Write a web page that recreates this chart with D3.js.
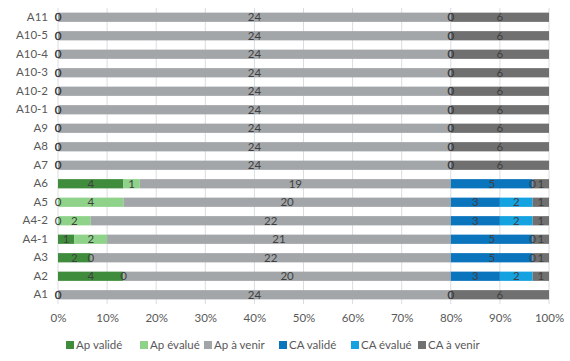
<!DOCTYPE html>
<html>
<head>
<meta charset="utf-8">
<script src="https://cdn.jsdelivr.net/npm/d3@7"></script>
<style>
  body { margin: 0; background: #fff; }
  text { font-family: Lato, "Open Sans", sans-serif; }
</style>
</head>
<body>
<div class="chart"></div>
<script>
// categories, top to bottom
var categories = ["A11", "A10-5", "A10-4", "A10-3", "A10-2", "A10-1", "A9", "A8", "A7",
                  "A6", "A5", "A4-2", "A4-1", "A3", "A2", "A1"];
var seriesNames = ["Ap validé", "Ap évalué", "Ap à venir", "CA validé", "CA évalué", "CA à venir"];
var seriesColors = ["#3f8d3c", "#8fd38a", "#a3a6a9", "#0a74bd", "#15a2e0", "#707070"];

var apValide  = [0, 0, 0, 0, 0, 0, 0, 0, 0, 4, 0, 0, 1, 2, 4, 0];
var apEvalue  = [0, 0, 0, 0, 0, 0, 0, 0, 0, 1, 4, 2, 2, 0, 0, 0];
var apAVenir  = [24, 24, 24, 24, 24, 24, 24, 24, 24, 19, 20, 22, 21, 22, 20, 24];
var caValide  = [0, 0, 0, 0, 0, 0, 0, 0, 0, 5, 3, 3, 5, 5, 3, 0];
var caEvalue  = [0, 0, 0, 0, 0, 0, 0, 0, 0, 0, 2, 2, 0, 0, 2, 0];
var caAVenir  = [6, 6, 6, 6, 6, 6, 6, 6, 6, 1, 1, 1, 1, 1, 1, 6];

var tickValues = [0, 0.1, 0.2, 0.3, 0.4, 0.5, 0.6, 0.7, 0.8, 0.9, 1];

var width = 570, height = 361;
var svg = d3.select(".chart").append("svg")
    .attr("width", width)
    .attr("height", height);

// build rows for the stack
var series = [apValide, apEvalue, apAVenir, caValide, caEvalue, caAVenir];
var rows = categories.map(function(c, i) {
  var r = { cat: c };
  seriesNames.forEach(function(s, k) { r[s] = series[k][i]; });
  return r;
});

var stacked = d3.stack().keys(seriesNames).offset(d3.stackOffsetExpand)(rows);

var x = d3.scaleLinear().domain([0, 1]).range([58, 549]);
var y = d3.scaleBand().domain(categories).range([8, 304]).paddingInner(0.5).paddingOuter(0.25);

// gridlines
svg.append("g").selectAll("line")
  .data(tickValues)
  .enter().append("line")
  .attr("x1", function(d) { return x(d); })
  .attr("x2", function(d) { return x(d); })
  .attr("y1", 8)
  .attr("y2", 304)
  .attr("stroke", "#d9dde0")
  .attr("stroke-width", 1);

// x axis labels
var xAxis = d3.axisBottom(x).tickValues(tickValues).tickFormat(d3.format(".0%")).tickSize(0).tickPadding(0);
var gx = svg.append("g").attr("transform", "translate(0,314)").call(xAxis);
gx.select(".domain").remove();
gx.selectAll("text").attr("fill", "#595959").style("font-size", "11.5px").attr("dy", "0.71em");

// y axis labels
var yAxis = d3.axisLeft(y).tickSize(0).tickPadding(10);
var gy = svg.append("g").attr("transform", "translate(" + x(0) + ",0)").call(yAxis);
gy.select(".domain").remove();
gy.selectAll("text").attr("fill", "#595959").style("font-size", "11.5px");

// bars
var layers = svg.append("g").selectAll("g")
  .data(stacked)
  .enter().append("g")
  .attr("fill", function(d, i) { return seriesColors[i]; });

layers.selectAll("rect")
  .data(function(d) { return d; })
  .enter().append("rect")
  .attr("x", function(d) { return x(d[0]); })
  .attr("width", function(d) { return x(d[1]) - x(d[0]); })
  .attr("y", function(d) { return y(d.data.cat); })
  .attr("height", y.bandwidth());

// data labels
var labels = svg.append("g");
stacked.forEach(function(layer) {
  labels.selectAll(null)
    .data(layer)
    .enter().append("text")
    .attr("x", function(d) { return x((d[0] + d[1]) / 2); })
    .attr("y", function(d) { return y(d.data.cat) + y.bandwidth() / 2; })
    .attr("dy", "0.35em")
    .attr("text-anchor", "middle")
    .attr("fill", "#404040")
    .style("font-size", "11.5px")
    .text(function(d) { return d.data[layer.key]; });
});

// legend
var legendX = [66, 140, 204, 279, 351, 418];
var legend = svg.append("g").selectAll("g")
  .data(seriesNames)
  .enter().append("g")
  .attr("transform", function(d, i) { return "translate(" + legendX[i] + ",345)"; });

legend.append("rect")
  .attr("x", 0)
  .attr("y", -4)
  .attr("width", 8)
  .attr("height", 8)
  .attr("fill", function(d, i) { return seriesColors[i]; });

legend.append("text")
  .attr("x", 10)
  .attr("y", 0)
  .attr("dy", "0.35em")
  .attr("fill", "#595959")
  .style("font-size", "11.5px")
  .text(function(d) { return d; });
</script>
</body>
</html>
